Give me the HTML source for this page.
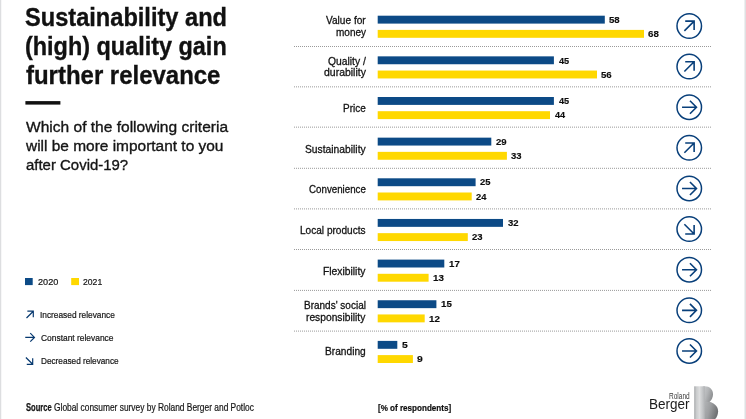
<!DOCTYPE html>
<html lang="en"><head><meta charset="utf-8"><title>Sustainability and (high) quality gain further relevance</title>
<style>
html,body{margin:0;padding:0;background:#fff;}
body{width:746px;height:419px;position:relative;overflow:hidden;font-family:"Liberation Sans",sans-serif;color:#1a1a1a;}
.t{position:absolute;white-space:nowrap;line-height:1;transform-origin:0 0;}
svg{position:absolute;overflow:visible;}
</style></head><body>
<div style="position:absolute;left:0;top:0;width:1px;height:419px;background:#dddee0"></div>
<div style="position:absolute;left:1px;top:0;width:1px;height:419px;background:#f7f7f8"></div>
<div style="position:absolute;left:745px;top:0;width:1px;height:419px;background:#dfe0e2"></div>
<div style="position:absolute;left:744px;top:0;width:1px;height:419px;background:#eeeff0"></div>

<div class="t" id="t1" style="left:25px;top:5px;font-size:25.5px;font-weight:bold;color:#111;-webkit-text-stroke:0.35px #111;transform:scaleX(0.9256)">Sustainability and</div>
<div class="t" id="t2" style="left:25px;top:34px;font-size:25.5px;font-weight:bold;color:#111;-webkit-text-stroke:0.35px #111;transform:scaleX(0.9186)">(high) quality gain</div>
<div class="t" id="t3" style="left:26px;top:63px;font-size:25.5px;font-weight:bold;color:#111;-webkit-text-stroke:0.35px #111;transform:scaleX(0.9396)">further relevance</div>
<div class="t" id="s1" style="left:26px;top:119px;font-size:15.4px;color:#151515;-webkit-text-stroke:0.35px #151515;transform:scaleX(1.0096)">Which of the following criteria</div>
<div class="t" id="s2" style="left:26px;top:138px;font-size:15.4px;color:#151515;-webkit-text-stroke:0.35px #151515;transform:scaleX(1.0035)">will be more important to you</div>
<div class="t" id="s3" style="left:26px;top:157px;font-size:15.4px;color:#151515;-webkit-text-stroke:0.35px #151515;transform:scaleX(0.9711)">after Covid-19?</div>
<div class="t" id="l1" style="left:38px;top:278px;font-size:9.0px;color:#151515;-webkit-text-stroke:0.2px #151515;transform:scaleX(1.0150)">2020</div>
<div class="t" id="l2" style="left:83px;top:278px;font-size:9.0px;color:#151515;-webkit-text-stroke:0.2px #151515;transform:scaleX(0.9595)">2021</div>
<div class="t" id="g0" style="left:40px;top:311px;font-size:8.9px;color:#151515;-webkit-text-stroke:0.2px #151515;transform:scaleX(0.9367)">Increased relevance</div>
<div class="t" id="g1" style="left:41px;top:334px;font-size:8.9px;color:#151515;-webkit-text-stroke:0.2px #151515;transform:scaleX(0.9479)">Constant relevance</div>
<div class="t" id="g2" style="left:41px;top:357px;font-size:8.9px;color:#151515;-webkit-text-stroke:0.2px #151515;transform:scaleX(0.9253)">Decreased relevance</div>
<div class="t" id="src1" style="left:26px;top:403px;font-size:10.1px;font-weight:bold;color:#151515;-webkit-text-stroke:0.25px #151515;transform:scaleX(0.7506)">Source</div>
<div class="t" id="src2" style="left:54px;top:403px;font-size:10.1px;color:#151515;-webkit-text-stroke:0.2px #151515;transform:scaleX(0.8306)">Global consumer survey by Roland Berger and Potloc</div>
<div class="t" id="pct" style="left:378px;top:403px;font-size:9.6px;font-weight:bold;color:#0d0d0d;-webkit-text-stroke:0.2px #0d0d0d;transform:scaleX(0.8414)">[% of respondents]</div>
<div class="t" id="r0a" style="left:326px;top:15px;font-size:11.3px;color:#121212;-webkit-text-stroke:0.3px #121212;transform:scaleX(0.8950)">Value for</div>
<div class="t" id="r0b" style="left:336px;top:27px;font-size:11.3px;color:#121212;-webkit-text-stroke:0.3px #121212;transform:scaleX(0.8859)">money</div>
<div class="t" id="v0a" style="left:609px;top:15px;font-size:9.5px;font-weight:bold;color:#0d0d0d;-webkit-text-stroke:0.15px #0d0d0d;transform:scaleX(1.0124)">58</div>
<div class="t" id="v0b" style="left:648px;top:29px;font-size:9.5px;font-weight:bold;color:#0d0d0d;-webkit-text-stroke:0.15px #0d0d0d;transform:scaleX(1.0203)">68</div>
<div class="t" id="r1a" style="left:328px;top:56px;font-size:11.3px;color:#121212;-webkit-text-stroke:0.3px #121212;transform:scaleX(0.9141)">Quality /</div>
<div class="t" id="r1b" style="left:324px;top:67px;font-size:11.3px;color:#121212;-webkit-text-stroke:0.3px #121212;transform:scaleX(0.9264)">durability</div>
<div class="t" id="v1a" style="left:559px;top:56px;font-size:9.5px;font-weight:bold;color:#0d0d0d;-webkit-text-stroke:0.15px #0d0d0d;transform:scaleX(0.9697)">45</div>
<div class="t" id="v1b" style="left:601px;top:70px;font-size:9.5px;font-weight:bold;color:#0d0d0d;-webkit-text-stroke:0.15px #0d0d0d;transform:scaleX(1.0165)">56</div>
<div class="t" id="r2a" style="left:343px;top:103px;font-size:11.3px;color:#121212;-webkit-text-stroke:0.3px #121212;transform:scaleX(0.8830)">Price</div>
<div class="t" id="v2a" style="left:559px;top:96px;font-size:9.5px;font-weight:bold;color:#0d0d0d;-webkit-text-stroke:0.15px #0d0d0d;transform:scaleX(0.9697)">45</div>
<div class="t" id="v2b" style="left:555px;top:110px;font-size:9.5px;font-weight:bold;color:#0d0d0d;-webkit-text-stroke:0.15px #0d0d0d;transform:scaleX(0.9607)">44</div>
<div class="t" id="r3a" style="left:305px;top:144px;font-size:11.3px;color:#121212;-webkit-text-stroke:0.3px #121212;transform:scaleX(0.9112)">Sustainability</div>
<div class="t" id="v3a" style="left:496px;top:137px;font-size:9.5px;font-weight:bold;color:#0d0d0d;-webkit-text-stroke:0.15px #0d0d0d;transform:scaleX(1.0080)">29</div>
<div class="t" id="v3b" style="left:511px;top:151px;font-size:9.5px;font-weight:bold;color:#0d0d0d;-webkit-text-stroke:0.15px #0d0d0d;transform:scaleX(0.9993)">33</div>
<div class="t" id="r4a" style="left:309px;top:184px;font-size:11.3px;color:#121212;-webkit-text-stroke:0.3px #121212;transform:scaleX(0.8631)">Convenience</div>
<div class="t" id="v4a" style="left:480px;top:177px;font-size:9.5px;font-weight:bold;color:#0d0d0d;-webkit-text-stroke:0.15px #0d0d0d;transform:scaleX(0.9930)">25</div>
<div class="t" id="v4b" style="left:476px;top:192px;font-size:9.5px;font-weight:bold;color:#0d0d0d;-webkit-text-stroke:0.15px #0d0d0d;transform:scaleX(0.9860)">24</div>
<div class="t" id="r5a" style="left:300px;top:225px;font-size:11.3px;color:#121212;-webkit-text-stroke:0.3px #121212;transform:scaleX(0.8926)">Local products</div>
<div class="t" id="v5a" style="left:508px;top:218px;font-size:9.5px;font-weight:bold;color:#0d0d0d;-webkit-text-stroke:0.15px #0d0d0d;transform:scaleX(1.0000)">32</div>
<div class="t" id="v5b" style="left:472px;top:232px;font-size:9.5px;font-weight:bold;color:#0d0d0d;-webkit-text-stroke:0.15px #0d0d0d;transform:scaleX(1.0003)">23</div>
<div class="t" id="r6a" style="left:323px;top:266px;font-size:11.3px;color:#121212;-webkit-text-stroke:0.3px #121212;transform:scaleX(0.9133)">Flexibility</div>
<div class="t" id="v6a" style="left:449px;top:259px;font-size:9.5px;font-weight:bold;color:#0d0d0d;-webkit-text-stroke:0.15px #0d0d0d;transform:scaleX(1.0195)">17</div>
<div class="t" id="v6b" style="left:433px;top:273px;font-size:9.5px;font-weight:bold;color:#0d0d0d;-webkit-text-stroke:0.15px #0d0d0d;transform:scaleX(1.0321)">13</div>
<div class="t" id="r7a" style="left:304px;top:300px;font-size:11.3px;color:#121212;-webkit-text-stroke:0.3px #121212;transform:scaleX(0.8850)">Brands' social</div>
<div class="t" id="r7b" style="left:306px;top:312px;font-size:11.3px;color:#121212;-webkit-text-stroke:0.3px #121212;transform:scaleX(0.9074)">responsibility</div>
<div class="t" id="v7a" style="left:441px;top:299px;font-size:9.5px;font-weight:bold;color:#0d0d0d;-webkit-text-stroke:0.15px #0d0d0d;transform:scaleX(1.0225)">15</div>
<div class="t" id="v7b" style="left:429px;top:314px;font-size:9.5px;font-weight:bold;color:#0d0d0d;-webkit-text-stroke:0.15px #0d0d0d;transform:scaleX(1.0319)">12</div>
<div class="t" id="r8a" style="left:325px;top:346px;font-size:11.3px;color:#121212;-webkit-text-stroke:0.3px #121212;transform:scaleX(0.9014)">Branding</div>
<div class="t" id="v8a" style="left:402px;top:340px;font-size:9.5px;font-weight:bold;color:#0d0d0d;-webkit-text-stroke:0.15px #0d0d0d;transform:scaleX(1.0899)">5</div>
<div class="t" id="v8b" style="left:417px;top:354px;font-size:9.5px;font-weight:bold;color:#0d0d0d;-webkit-text-stroke:0.15px #0d0d0d;transform:scaleX(1.0883)">9</div>
<div class="t" id="lg1" style="left:669px;top:392px;font-size:8.7px;color:#3a3a3a;transform:scaleX(0.7496)">Roland</div>
<div class="t" id="lg2" style="left:649px;top:397px;font-size:14.5px;color:#1c1c1c;transform:scaleX(0.9333)">Berger</div>
<svg width="746" height="419" viewBox="0 0 746 419" style="left:0;top:0"><rect x="25.4" y="101.1" width="35" height="3.5" fill="#111"/>
<rect x="25" y="278" width="7.7" height="7.1" fill="#0c4a86"/>
<rect x="71.2" y="278" width="7.8" height="7.1" fill="#ffd800"/>
<path transform="translate(29.90 314.60) rotate(-45)" fill="none" stroke="#07396f" stroke-width="1.2" d="M-4.8 0H4.8M0.5999999999999996 -4.2L4.8 0L0.5999999999999996 4.2"/>
<path transform="translate(29.85 337.40) rotate(0)" fill="none" stroke="#07396f" stroke-width="1.2" d="M-4.6 0H4.6M0.39999999999999947 -4.2L4.6 0L0.39999999999999947 4.2"/>
<path transform="translate(29.30 360.90) rotate(45)" fill="none" stroke="#07396f" stroke-width="1.2" d="M-4.8 0H4.8M0.5999999999999996 -4.2L4.8 0L0.5999999999999996 4.2"/>
<rect x="377.7" y="15.70" width="227.1" height="7.9" fill="#0c4a86"/>
<rect x="377.7" y="29.90" width="266.3" height="7.9" fill="#ffd800"/>
<line x1="294" x2="712" y1="46.5" y2="46.5" stroke="#9a9a9a" stroke-width="1" stroke-dasharray="1 1"/>
<circle cx="689.25" cy="26.00" r="12.25" fill="none" stroke="#083f7a" stroke-width="1.5"/>
<path transform="translate(689.25 26.00) rotate(-45)" fill="none" stroke="#083f7a" stroke-width="1.6" d="M-6.9 0H6.9M0.6000000000000005 -6.3L6.9 0L0.6000000000000005 6.3"/>
<rect x="377.7" y="56.35" width="176.2" height="7.9" fill="#0c4a86"/>
<rect x="377.7" y="70.55" width="219.3" height="7.9" fill="#ffd800"/>
<line x1="294" x2="712" y1="86.85" y2="86.85" stroke="#9a9a9a" stroke-width="1" stroke-dasharray="1 1"/>
<circle cx="689.25" cy="66.62" r="12.25" fill="none" stroke="#083f7a" stroke-width="1.5"/>
<path transform="translate(689.25 66.62) rotate(-45)" fill="none" stroke="#083f7a" stroke-width="1.6" d="M-6.9 0H6.9M0.6000000000000005 -6.3L6.9 0L0.6000000000000005 6.3"/>
<rect x="377.7" y="97.00" width="176.2" height="7.9" fill="#0c4a86"/>
<rect x="377.7" y="111.20" width="172.3" height="7.9" fill="#ffd800"/>
<line x1="294" x2="712" y1="127.15" y2="127.15" stroke="#9a9a9a" stroke-width="1" stroke-dasharray="1 1"/>
<circle cx="689.25" cy="107.24" r="12.25" fill="none" stroke="#083f7a" stroke-width="1.5"/>
<path transform="translate(689.25 107.24) rotate(0)" fill="none" stroke="#083f7a" stroke-width="1.6" d="M-7.2 0H7.2M0.7000000000000002 -6.5L7.2 0L0.7000000000000002 6.5"/>
<rect x="377.7" y="137.65" width="113.6" height="7.9" fill="#0c4a86"/>
<rect x="377.7" y="151.85" width="129.2" height="7.9" fill="#ffd800"/>
<line x1="294" x2="712" y1="168.3" y2="168.3" stroke="#9a9a9a" stroke-width="1" stroke-dasharray="1 1"/>
<circle cx="689.25" cy="147.86" r="12.25" fill="none" stroke="#083f7a" stroke-width="1.5"/>
<path transform="translate(689.25 147.86) rotate(-45)" fill="none" stroke="#083f7a" stroke-width="1.6" d="M-6.9 0H6.9M0.6000000000000005 -6.3L6.9 0L0.6000000000000005 6.3"/>
<rect x="377.7" y="178.30" width="97.9" height="7.9" fill="#0c4a86"/>
<rect x="377.7" y="192.50" width="94.0" height="7.9" fill="#ffd800"/>
<line x1="294" x2="712" y1="208.9" y2="208.9" stroke="#9a9a9a" stroke-width="1" stroke-dasharray="1 1"/>
<circle cx="689.25" cy="188.48" r="12.25" fill="none" stroke="#083f7a" stroke-width="1.5"/>
<path transform="translate(689.25 188.48) rotate(0)" fill="none" stroke="#083f7a" stroke-width="1.6" d="M-7.2 0H7.2M0.7000000000000002 -6.5L7.2 0L0.7000000000000002 6.5"/>
<rect x="377.7" y="218.95" width="125.3" height="7.9" fill="#0c4a86"/>
<rect x="377.7" y="233.15" width="90.1" height="7.9" fill="#ffd800"/>
<line x1="294" x2="712" y1="249.5" y2="249.5" stroke="#9a9a9a" stroke-width="1" stroke-dasharray="1 1"/>
<circle cx="689.25" cy="229.10" r="12.25" fill="none" stroke="#083f7a" stroke-width="1.5"/>
<path transform="translate(689.25 229.10) rotate(45)" fill="none" stroke="#083f7a" stroke-width="1.6" d="M-6.9 0H6.9M0.6000000000000005 -6.3L6.9 0L0.6000000000000005 6.3"/>
<rect x="377.7" y="259.60" width="66.6" height="7.9" fill="#0c4a86"/>
<rect x="377.7" y="273.80" width="50.9" height="7.9" fill="#ffd800"/>
<line x1="294" x2="712" y1="290.4" y2="290.4" stroke="#9a9a9a" stroke-width="1" stroke-dasharray="1 1"/>
<circle cx="689.25" cy="269.72" r="12.25" fill="none" stroke="#083f7a" stroke-width="1.5"/>
<path transform="translate(689.25 269.72) rotate(0)" fill="none" stroke="#083f7a" stroke-width="1.6" d="M-7.2 0H7.2M0.7000000000000002 -6.5L7.2 0L0.7000000000000002 6.5"/>
<rect x="377.7" y="300.25" width="58.7" height="7.9" fill="#0c4a86"/>
<rect x="377.7" y="314.45" width="47.0" height="7.9" fill="#ffd800"/>
<line x1="294" x2="712" y1="331.1" y2="331.1" stroke="#9a9a9a" stroke-width="1" stroke-dasharray="1 1"/>
<circle cx="689.25" cy="310.34" r="12.25" fill="none" stroke="#083f7a" stroke-width="1.5"/>
<path transform="translate(689.25 310.34) rotate(0)" fill="none" stroke="#083f7a" stroke-width="1.6" d="M-7.2 0H7.2M0.7000000000000002 -6.5L7.2 0L0.7000000000000002 6.5"/>
<rect x="377.7" y="340.90" width="19.6" height="7.9" fill="#0c4a86"/>
<rect x="377.7" y="355.10" width="35.2" height="7.9" fill="#ffd800"/>
<circle cx="689.25" cy="350.96" r="12.25" fill="none" stroke="#083f7a" stroke-width="1.5"/>
<path transform="translate(689.25 350.96) rotate(0)" fill="none" stroke="#083f7a" stroke-width="1.6" d="M-7.2 0H7.2M0.7000000000000002 -6.5L7.2 0L0.7000000000000002 6.5"/>
<defs>
<linearGradient id="ga" x1="0" x2="1" y1="0" y2="0"><stop offset="0" stop-color="#a6a8aa"/><stop offset="0.2" stop-color="#c9cbcc"/><stop offset="0.5" stop-color="#dcddde"/><stop offset="0.8" stop-color="#c2c4c6"/><stop offset="1" stop-color="#b0b2b4"/></linearGradient>
<linearGradient id="gb" x1="0" x2="1" y1="0" y2="0.5"><stop offset="0" stop-color="#c9cbcd"/><stop offset="0.5" stop-color="#b4b6b8"/><stop offset="1" stop-color="#8f9193"/></linearGradient>
<linearGradient id="gc" x1="0" x2="1" y1="0" y2="0.4"><stop offset="0" stop-color="#b6b8ba"/><stop offset="0.5" stop-color="#9d9fa1"/><stop offset="1" stop-color="#6e7072"/></linearGradient>
</defs>
<path d="M703 401.2 L707.5 401.2 C713.5 402.3 718.1 405.8 718.1 411.2 C718.1 416.5 715 420.5 710 422.5 L703 422.5 Z" fill="url(#gc)"/>
<path d="M703 386.3 H704.8 C709.8 386.3 713 389.8 713 394.3 C713 397.6 711.6 400.2 709.4 402 L703 402 Z" fill="url(#gb)"/>
<rect x="694.2" y="386.3" width="10.6" height="40" fill="url(#ga)"/></svg>
</body></html>
